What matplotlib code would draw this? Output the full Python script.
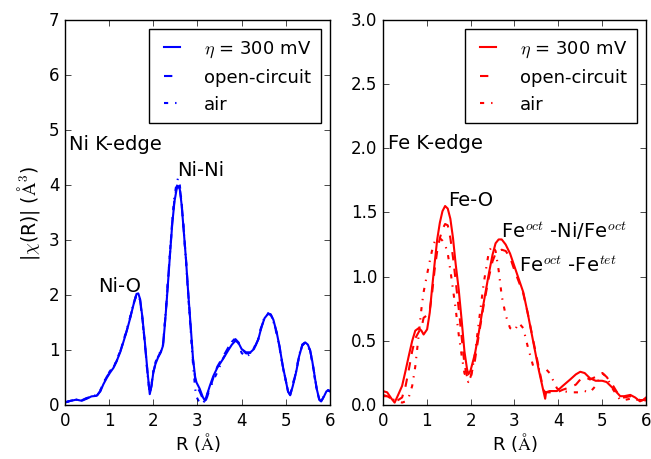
import numpy as np
import matplotlib
matplotlib.use('Agg')
import matplotlib.pyplot as plt

plt.style.use('classic')

# Ni K-edge, |chi(R)|
r_ni = [0.0, 0.13, 0.26, 0.38, 0.5, 0.6, 0.72, 0.8, 0.87, 0.95, 1.02, 1.1, 1.17, 1.25,
        1.32, 1.4, 1.47, 1.55, 1.62, 1.66, 1.7, 1.75, 1.81, 1.87, 1.92, 1.96, 2.0, 2.05,
        2.11, 2.17, 2.22, 2.26, 2.3, 2.34, 2.38, 2.43, 2.48, 2.53, 2.56, 2.6, 2.64, 2.68,
        2.74, 2.79, 2.85, 2.9, 2.95, 2.98, 3.05, 3.12, 3.17, 3.22, 3.28, 3.36, 3.45, 3.58,
        3.7, 3.78, 3.86, 3.93, 4.0, 4.1, 4.2, 4.28, 4.38, 4.45, 4.52, 4.6, 4.66, 4.72,
        4.8, 4.86, 4.93, 5.0, 5.05, 5.1, 5.16, 5.24, 5.3, 5.37, 5.44, 5.5, 5.55, 5.6,
        5.65, 5.7, 5.76, 5.8, 5.86, 5.92, 5.96, 6.0]
ni_300 = [0.05, 0.08, 0.10, 0.08, 0.12, 0.16, 0.17, 0.25, 0.38, 0.5, 0.59, 0.68, 0.8, 0.96,
          1.14, 1.35, 1.56, 1.82, 2.02, 2.03, 1.93, 1.62, 1.14, 0.6, 0.2, 0.35, 0.59, 0.75,
          0.87, 0.96, 1.08, 1.44, 1.85, 2.3, 2.75, 3.3, 3.7, 3.93, 3.98, 3.92, 3.65, 3.26,
          2.65, 2.05, 1.4, 0.84, 0.5, 0.41, 0.3, 0.15, 0.08, 0.2, 0.35, 0.53, 0.68, 0.84,
          1.0, 1.1, 1.17, 1.13, 1.02, 0.96, 0.96, 1.02, 1.2, 1.42, 1.58, 1.66, 1.65, 1.55,
          1.3, 1.06, 0.72, 0.45, 0.25, 0.18, 0.35, 0.62, 0.88, 1.08, 1.14, 1.1, 1.0, 0.8,
          0.55, 0.3, 0.1, 0.07, 0.15, 0.25, 0.27, 0.25]
ni_oc = [0.05, 0.08, 0.10, 0.09, 0.13, 0.16, 0.17, 0.26, 0.4, 0.52, 0.6, 0.69, 0.8, 0.97,
         1.15, 1.36, 1.57, 1.83, 2.02, 2.02, 1.92, 1.6, 1.12, 0.58, 0.2, 0.36, 0.6, 0.76,
         0.88, 0.97, 1.08, 1.46, 1.88, 2.33, 2.78, 3.33, 3.74, 3.97, 4.02, 3.95, 3.68, 3.28,
         2.66, 2.05, 1.38, 0.82, 0.47, 0.35, 0.25, 0.12, 0.05, 0.15, 0.3, 0.5, 0.7, 0.88,
         1.05, 1.14, 1.2, 1.14, 1.02, 0.94, 0.95, 1.02, 1.2, 1.42, 1.58, 1.66, 1.64, 1.54,
         1.3, 1.06, 0.72, 0.45, 0.25, 0.19, 0.36, 0.63, 0.88, 1.08, 1.14, 1.1, 1.0, 0.8,
         0.55, 0.3, 0.1, 0.07, 0.15, 0.25, 0.27, 0.25]
ni_air = [0.05, 0.08, 0.10, 0.09, 0.13, 0.17, 0.18, 0.27, 0.4, 0.53, 0.62, 0.7, 0.82, 0.98,
          1.16, 1.38, 1.58, 1.84, 2.0, 2.0, 1.9, 1.58, 1.1, 0.56, 0.22, 0.38, 0.62, 0.78,
          0.9, 0.98, 1.1, 1.48, 1.9, 2.35, 2.8, 3.36, 3.8, 4.04, 4.12, 4.0, 3.7, 3.28,
          2.62, 2.0, 1.32, 0.74, 0.29, 0.15, 0.04, 0.02, 0.1, 0.2, 0.3, 0.45, 0.6, 0.85,
          1.02, 1.15, 1.22, 1.12, 0.95, 0.87, 0.94, 1.04, 1.22, 1.44, 1.6, 1.67, 1.64, 1.52,
          1.28, 1.04, 0.7, 0.44, 0.26, 0.2, 0.38, 0.64, 0.9, 1.1, 1.14, 1.08, 0.97, 0.78,
          0.52, 0.28, 0.1, 0.08, 0.16, 0.25, 0.27, 0.26]

# Fe K-edge
r_fe = [0.0, 0.1, 0.2, 0.27, 0.35, 0.44, 0.52, 0.59, 0.67, 0.74, 0.82, 0.88, 0.93, 1.01,
        1.07, 1.12, 1.18, 1.24, 1.3, 1.36, 1.42, 1.48, 1.54, 1.6, 1.66, 1.73, 1.8, 1.86,
        1.92, 1.95, 2.0, 2.1, 2.19, 2.3, 2.42, 2.5, 2.57, 2.64, 2.71, 2.8, 2.9, 3.0, 3.1,
        3.2, 3.3, 3.43, 3.55, 3.66, 3.7, 3.72, 3.8, 3.97, 4.1, 4.27, 4.4, 4.5, 4.6, 4.72,
        4.85, 5.0, 5.1, 5.25, 5.41, 5.5, 5.64, 5.75, 5.86, 5.93, 6.0]
fe_300 = [0.11, 0.10, 0.05, 0.02, 0.08, 0.15, 0.27, 0.38, 0.5, 0.58, 0.60, 0.58, 0.55, 0.59,
          0.72, 0.90, 1.1, 1.29, 1.42, 1.51, 1.55, 1.53, 1.45, 1.3, 1.1, 0.9, 0.65, 0.42,
          0.28, 0.24, 0.27, 0.4, 0.57, 0.8, 1.03, 1.17, 1.26, 1.29, 1.29, 1.25, 1.18, 1.08, 0.98,
          0.88, 0.72, 0.49, 0.28, 0.11, 0.05, 0.10, 0.11, 0.11, 0.15, 0.2, 0.24, 0.26, 0.25, 0.21,
          0.19, 0.19, 0.18, 0.13, 0.07, 0.07, 0.08, 0.06, 0.03, 0.04, 0.06]
fe_oc = [0.08, 0.07, 0.05, 0.03, 0.04, 0.06, 0.15, 0.27, 0.42, 0.52, 0.57, 0.6, 0.68, 0.70,
         0.74, 0.86, 1.05, 1.2, 1.3, 1.37, 1.41, 1.4, 1.3, 1.15, 0.97, 0.75, 0.52, 0.32,
         0.22, 0.19, 0.22, 0.35, 0.55, 0.78, 1.0, 1.12, 1.18, 1.2, 1.21, 1.2, 1.15, 1.05, 0.96,
         0.87, 0.72, 0.5, 0.3, 0.12, 0.1, 0.1, 0.1, 0.1, 0.12, 0.14, 0.16, 0.2, 0.22, 0.2,
         0.22, 0.25, 0.22, 0.15, 0.06, 0.06, 0.07, 0.06, 0.04, 0.04, 0.05]
fe_air = [0.07, 0.07, 0.05, 0.04, 0.03, 0.02, 0.03, 0.06, 0.15, 0.3, 0.55, 0.75, 0.88, 1.02,
          1.12, 1.2, 1.27, 1.3, 1.3, 1.28, 1.25, 1.18, 1.05, 0.9, 0.75, 0.55, 0.38, 0.25,
          0.2, 0.18, 0.2, 0.4, 0.65, 0.95, 1.2, 1.24, 1.2, 1.05, 0.85, 0.7, 0.6, 0.58, 0.64,
          0.6, 0.46, 0.3, 0.28, 0.28, 0.28, 0.28, 0.25, 0.13, 0.11, 0.1, 0.1, 0.1, 0.11, 0.1,
          0.15, 0.25, 0.22, 0.12, 0.04, 0.04, 0.05, 0.05, 0.03, 0.03, 0.04]

labels = [r'$\eta$ = 300 mV', 'open-circuit', 'air']
styles = ['-', '--', '-.']

fig = plt.figure(figsize=(6.51, 4.6), dpi=100, facecolor='w')
ax1 = fig.add_axes([0.0998, 0.117, 0.407, 0.838])
ax2 = fig.add_axes([0.588, 0.117, 0.4045, 0.838])

for ys, ls, lab in zip([ni_300, ni_oc, ni_air], styles, labels):
    ax1.plot(r_ni, ys, color='b', ls=ls, lw=1.5, label=lab)
for ys, ls, lab in zip([fe_300, fe_oc, fe_air], styles, labels):
    ax2.plot(r_fe, ys, color='r', ls=ls, lw=1.5, label=lab)

ax1.set_xlim(0, 6)
ax1.set_ylim(0, 7)
ax2.set_xlim(0, 6)
ax2.set_ylim(0, 3)
ax2.set_yticks(np.arange(0, 3.01, 0.5))

ax1.set_xlabel(r'R ($\mathrm{\AA}$)', fontsize=13, labelpad=1)
ax2.set_xlabel(r'R ($\mathrm{\AA}$)', fontsize=13, labelpad=1)
ax1.set_ylabel(r'|$\chi$(R)| ($\mathrm{\AA}^3$)', fontsize=13.5)

fs = 14
ax1.text(0.1, 4.65, 'Ni K-edge', fontsize=fs)
ax1.text(2.55, 4.18, 'Ni-Ni', fontsize=fs)
ax1.text(0.76, 2.07, 'Ni-O', fontsize=fs)

ax2.text(0.13, 2.0, 'Fe K-edge', fontsize=fs)
ax2.text(1.5, 1.56, 'Fe-O', fontsize=fs)
ax2.text(2.7, 1.31, r'Fe$^{oct}$ -Ni/Fe$^{oct}$', fontsize=fs)
ax2.text(3.11, 1.045, r'Fe$^{oct}$ -Fe$^{tet}$', fontsize=fs)

for ax in (ax1, ax2):
    ax.legend(loc='upper right', fontsize=13, handlelength=1.5,
              handletextpad=1.0, borderpad=0.55)

fig.savefig('out.png', dpi=100, facecolor='w')
